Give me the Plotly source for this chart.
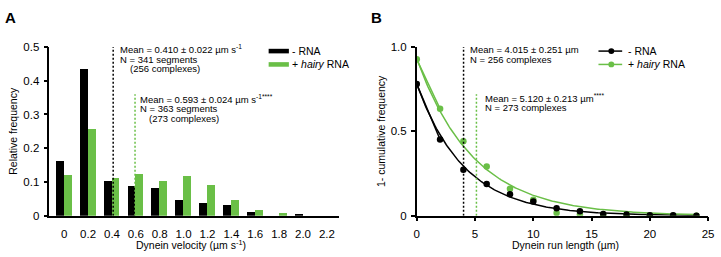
import numpy as np
import plotly.graph_objects as go

W, H = 721, 257
FONT = "Liberation Sans, Arial, Helvetica, sans-serif"
BLACK = "#000000"
GREEN = "#6abf47"

# ---------- Panel A data ----------
vel_bins = [0, 0.2, 0.4, 0.6, 0.8, 1.0, 1.2, 1.4, 1.6, 1.8, 2.0, 2.2]
vel_tick_labels = ["0", "0.2", "0.4", "0.6", "0.8", "1.0", "1.2", "1.4", "1.6", "1.8", "2.0", "2.2"]
freq_no_rna = [0.162, 0.434, 0.102, 0.088, 0.082, 0.046, 0.037, 0.031, 0.011, 0.0, 0.005, 0.0]
freq_hairy = [0.122, 0.258, 0.113, 0.124, 0.102, 0.119, 0.090, 0.046, 0.018, 0.008, 0.0, 0.0]
mean_vel_no_rna = 0.410
mean_vel_hairy = 0.593
vline_top_a_no_rna = 0.5
vline_top_a_hairy = 0.36

# ---------- Panel B data ----------
run_x = [0, 2, 4, 6, 8, 10, 12, 14, 16, 18, 20, 22, 24]
cum_no_rna = [0.78, 0.452, 0.273, 0.188, 0.128, 0.085, 0.045, 0.027, 0.010, 0.008, 0.003, 0.003, 0.0]
cum_hairy = [0.927, 0.634, 0.442, 0.292, 0.160, 0.094, 0.016, 0.008, 0.005, 0.003, 0.0, 0.0, 0.0]
run_ticks = [0, 5, 10, 15, 20, 25]
mean_run_no_rna = 4.015
mean_run_hairy = 5.120
vline_top_b_no_rna = 1.0
vline_top_b_hairy = 0.72
# one-phase exponential decay fit parameters (amplitude, decay length)
fit_no_rna = (0.78, 4.1)
fit_hairy = (0.93, 4.9)


def px(x):
    return x / W


def py(y):
    return 1 - y / H


fig = go.Figure()

bar_w = 0.066
fig.add_trace(go.Bar(x=vel_bins, y=freq_no_rna, width=bar_w, offset=-bar_w,
                     marker=dict(color=BLACK, line=dict(width=0)),
                     xaxis="x", yaxis="y", showlegend=False))
fig.add_trace(go.Bar(x=vel_bins, y=freq_hairy, width=bar_w, offset=0,
                     marker=dict(color=GREEN, line=dict(width=0)),
                     xaxis="x", yaxis="y", showlegend=False))

# Panel B fits
xf = np.linspace(0, 24, 200)
for (amp, L), col in [(fit_no_rna, BLACK), (fit_hairy, GREEN)]:
    fig.add_trace(go.Scatter(x=xf, y=amp * np.exp(-xf / L), mode="lines",
                             line=dict(color=col, width=1.5),
                             xaxis="x2", yaxis="y2", showlegend=False, hoverinfo="skip"))
# first segment connecting the 0 and 2 µm points, as drawn
fig.add_trace(go.Scatter(x=run_x[:2], y=cum_hairy[:2], mode="lines",
                         line=dict(color=GREEN, width=1.5),
                         xaxis="x2", yaxis="y2", showlegend=False, hoverinfo="skip"))
fig.add_trace(go.Scatter(x=run_x[:2], y=cum_no_rna[:2], mode="lines",
                         line=dict(color=BLACK, width=1.5),
                         xaxis="x2", yaxis="y2", showlegend=False, hoverinfo="skip"))
# points (green first so black on top)
fig.add_trace(go.Scatter(x=run_x, y=cum_hairy, mode="markers",
                         marker=dict(color=GREEN, size=6.5),
                         xaxis="x2", yaxis="y2", showlegend=False))
fig.add_trace(go.Scatter(x=run_x, y=cum_no_rna, mode="markers",
                         marker=dict(color=BLACK, size=6.5),
                         xaxis="x2", yaxis="y2", showlegend=False))

shapes = []
dash = "2px,2px"
shapes.append(dict(type="line", xref="x", yref="y", x0=mean_vel_no_rna, x1=mean_vel_no_rna,
                   y0=0, y1=vline_top_a_no_rna, line=dict(color=BLACK, width=1.5, dash=dash)))
shapes.append(dict(type="line", xref="x", yref="y", x0=mean_vel_hairy, x1=mean_vel_hairy,
                   y0=0, y1=vline_top_a_hairy, line=dict(color=GREEN, width=1.5, dash=dash)))
shapes.append(dict(type="line", xref="x2", yref="y2", x0=mean_run_no_rna, x1=mean_run_no_rna,
                   y0=0, y1=vline_top_b_no_rna, line=dict(color=BLACK, width=1.5, dash=dash)))
shapes.append(dict(type="line", xref="x2", yref="y2", x0=mean_run_hairy, x1=mean_run_hairy,
                   y0=0, y1=vline_top_b_hairy, line=dict(color=GREEN, width=1.5, dash=dash)))

# legends (manual)
for yy, col in [(47.3, BLACK), (61.3, GREEN)]:
    shapes.append(dict(type="rect", xref="paper", yref="paper", x0=px(269), x1=px(289.5),
                       y0=py(yy + 2.4), y1=py(yy - 2.4), fillcolor=col, line=dict(width=0)))
    shapes.append(dict(type="line", xref="paper", yref="paper", x0=px(603), x1=px(627),
                       y0=py(yy), y1=py(yy), line=dict(color=col, width=1.5)))
    shapes.append(dict(type="circle", xref="paper", yref="paper", x0=px(613), x1=px(619),
                       y0=py(yy + 3), y1=py(yy - 3), fillcolor=col, line=dict(width=0)))

ann = []


def text(x, y, s, size=9.5, color=BLACK, anchor="left", **kw):
    ann.append(dict(x=px(x), y=py(y), xref="paper", yref="paper", text=s, showarrow=False,
                    xanchor=anchor, yanchor="middle", borderpad=0,
                    font=dict(family=FONT, size=size, color=color), **kw))


text(117.5, 45, "Mean = 0.410 ± 0.022 µm s<sup>-1</sup>")
text(117.5, 55.7, "N = 341 segments")
text(127.5, 65.7, "(256 complexes)")
text(137.3, 97.5, "Mean = 0.593 ± 0.024 µm s<sup>-1****</sup>")
text(137.3, 108, "N = 363 segments")
text(147.3, 118, "(273 complexes)")

text(471.7, 45.7, "Mean = 4.015 ± 0.251 µm")
text(471.7, 56, "N = 256 complexes")
text(486.7, 96.7, "Mean = 5.120 ± 0.213 µm<sup>****</sup>")
text(486.7, 106.7, "N = 273 complexes")

text(291.5, 47.3, "- RNA", size=10.5)
text(291.5, 61.3, "+ <i>hairy</i> RNA", size=10.5)
text(631.5, 47.3, "- RNA", size=10.5)
text(631.5, 61.3, "+ <i>hairy</i> RNA", size=10.5)

text(8, 12, "<b>A</b>", size=15, anchor="center")
text(378, 12, "<b>B</b>", size=15, anchor="center")

text(190, 250, "Dynein velocity (µm s<sup>-1</sup>)", size=10.5, anchor="center")
text(570, 251, "Dynein run length (µm)", size=10.5, anchor="center")
text(10, 131, "Relative frequency", size=10.5, anchor="center", textangle=-90)
text(383, 131, "1- cumulative frequency", size=10.5, anchor="center", textangle=-90)

ax_common = dict(showline=True, linecolor=BLACK, linewidth=1.5, showgrid=False, zeroline=False,
                 ticks="outside", ticklen=4, tickwidth=1.5, tickcolor=BLACK,
                 tickfont=dict(family=FONT, size=11.5, color=BLACK), fixedrange=True)

x_px_per_unit = (328 - 62) / 2.2
fig.update_layout(
    width=W, height=H, margin=dict(l=0, r=0, t=0, b=0),
    paper_bgcolor="white", plot_bgcolor="white",
    barmode="overlay", bargap=0,
    xaxis=dict(domain=[px(47), px(340)],
               range=[-(62 - 47) / x_px_per_unit, 2.2 + (340 - 328) / x_px_per_unit],
               tickvals=vel_bins, ticktext=vel_tick_labels, anchor="y", ticklabelstandoff=3,
               **{**ax_common, "tickcolor": "rgba(0,0,0,0)"}),
    yaxis=dict(domain=[py(220), py(43)], range=[0, 0.5], tickvals=[0, 0.1, 0.2, 0.3, 0.4, 0.5],
               ticktext=["0", "0.1", "0.2", "0.3", "0.4", "0.5"], anchor="x", ticklabelstandoff=2,
               **ax_common),
    xaxis2=dict(domain=[px(419), px(714)], range=[0, 25], tickvals=run_ticks, anchor="y2",
                ticklabelstandoff=3, **ax_common),
    yaxis2=dict(domain=[py(220), py(43)], range=[0, 1], tickvals=[0, 0.5, 1.0],
                ticktext=["0", "0.5", "1.0"], anchor="x2", ticklabelstandoff=2, **ax_common),
    shapes=shapes, annotations=ann,
)

fig.write_html(
    "out.html",
    config={"displayModeBar": False},
    post_script="document.documentElement.style.margin='0';document.body.style.margin='0';"
                "document.body.style.overflow='hidden';",
)
